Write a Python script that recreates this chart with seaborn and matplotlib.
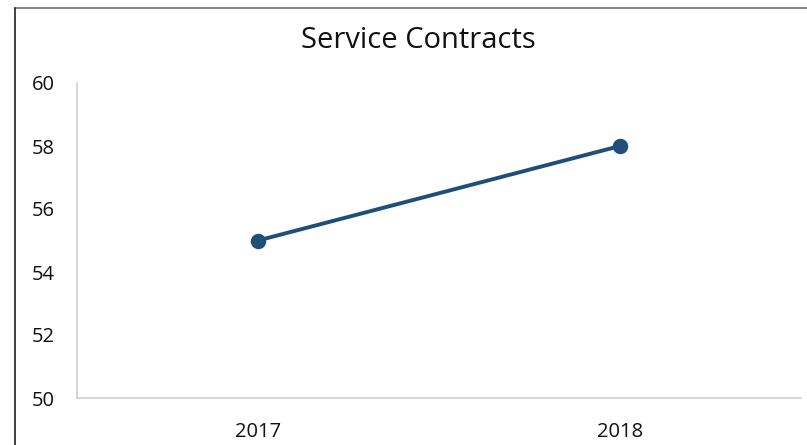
import matplotlib
matplotlib.use("Agg")
import matplotlib.pyplot as plt
import seaborn as sns
import pandas as pd

years = ["2017", "2018"]
contracts = [55, 58]
y_ticks = [50, 52, 54, 56, 58, 60]

sns.set_style("white")
plt.rcParams["font.family"] = ["Open Sans", "DejaVu Sans"]

df = pd.DataFrame({"year": years, "value": contracts})

fig = plt.figure(figsize=(8.07, 4.45), dpi=100)
ax = fig.add_axes([77 / 807, (445 - 398) / 445, (801 - 77) / 807, (398 - 83) / 445])

line_color = "#1F4E79"
sns.pointplot(data=df, x="year", y="value", color=line_color, ax=ax,
              markersize=9, linewidth=2.8, errorbar=None)

ax.set_xlim(-0.5, 1.5)
ax.set_ylim(50, 60)
ax.set_yticks(y_ticks)
ax.set_xlabel("")
ax.set_ylabel("")

for side in ["top", "right"]:
    ax.spines[side].set_visible(False)
for side in ["left", "bottom"]:
    ax.spines[side].set_color("#d0d0d0")
    ax.spines[side].set_linewidth(1.2)

ax.tick_params(axis="both", length=0, labelsize=14.5, colors="#111111")
ax.tick_params(axis="y", pad=16)
ax.tick_params(axis="x", pad=17)

fig.text(418 / 807, 1 - 41 / 445, "Service Contracts", ha="center", va="center",
         fontsize=21, color="#111111")

# outer frame edges
fig.add_artist(plt.Line2D([15 / 807, 1], [1 - 7.5 / 445, 1 - 7.5 / 445],
                          transform=fig.transFigure, color="#888888", lw=1.5))
fig.add_artist(plt.Line2D([15 / 807, 15 / 807], [0, 1 - 7.5 / 445],
                          transform=fig.transFigure, color="#333333", lw=1.3))

fig.savefig("out.png", dpi=100)
